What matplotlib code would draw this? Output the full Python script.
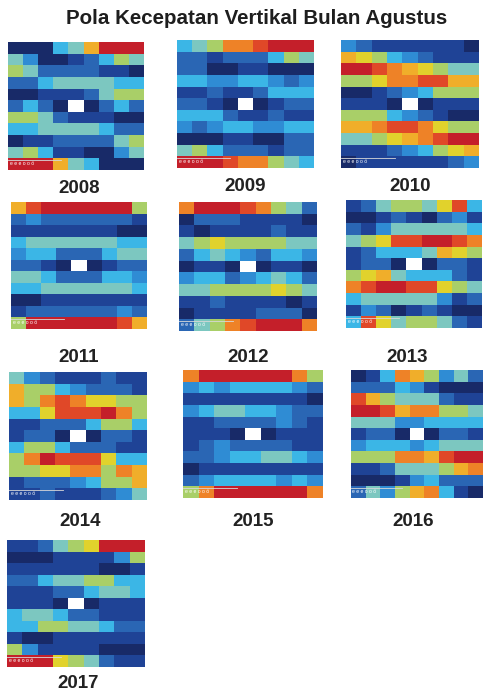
import numpy as np
import matplotlib.pyplot as plt
from matplotlib.colors import ListedColormap

# cell classes per row: 0 (weakest) .. b (strongest), W = centre point (no data)
g2008 = ["000458bbb", "530012465", "652222110", "224555544", "001112566",
         "2420W0242", "665211100", "445555422", "011222256", "564110035",
         "bbb854000"]
g2009 = ["45699abbb", "221222465", "220011000", "443344323", "112112444",
         "2210W0122", "444211211", "323443344", "000110022", "564222122",
         "bbba99654"]
g2010 = ["321111110", "876432111", "bba987655", "66799aa88", "001234666",
         "1110W0111", "666432100", "889aa9766", "556789abb", "111234678",
         "011111123"]
g2011 = ["8abbbbbb6", "232222221", "111111100", "455555544", "344222455",
         "2210W0122", "554222443", "445555554", "001111111", "122222232",
         "6bbbbbba8"]
g2012 = ["9bbba9652", "022211110", "101111211", "567666655", "245432443",
         "0110W0110", "344234542", "556666765", "112111101", "011112220",
         "2569abbb9"]
g2013 = ["1256657a4", "001210231", "213555554", "567aabba9", "124445876",
         "1220W0221", "678544421", "9abbaa765", "455555312", "132012100",
         "4a7566521"]
g2014 = ["532111211", "866432221", "869a97766", "447aaab96", "112224664",
         "1220W0221", "466422211", "69baaa744", "667799698", "122234668",
         "112111235"]
g2015 = ["9bbbbbb96", "343444432", "111111110", "345544322", "112222321",
         "1110W0111", "123222211", "223445543", "011111111", "234444343",
         "69bbbbbb9"]
g2016 = ["014986352", "222431000", "a86555211", "bba899665", "555334444",
         "1220W0221", "344434555", "666998abb", "112555689", "000134222",
         "253689410"]
g2017 = ["112567bbb", "000111136", "111111001", "224556644", "111224554",
         "1110W0111", "455422111", "446655422", "100111111", "631111000",
         "bbb765211"]

years = ["2008", "2009", "2010", "2011", "2012",
         "2013", "2014", "2015", "2016", "2017"]
grids = [g2008, g2009, g2010, g2011, g2012,
         g2013, g2014, g2015, g2016, g2017]

# jet-like palette, slightly washed out
palette = ["#182a68", "#1f4396", "#2a66b4", "#2f8cd4", "#3bb6e6", "#7cc7c0",
           "#a9cf68", "#e1d22c", "#f0ae2a", "#ee8227", "#e04828", "#c41f2a"]
cmap = ListedColormap(palette)
cmap.set_bad("white")

# panel boxes in pixels: left, right, top, bottom ; label centre x, y
W, H = 483, 693
boxes = [(8, 144, 42, 170), (177, 314, 40, 168), (341, 479, 40, 168),
         (11, 147, 202, 329), (179, 317, 202, 331), (346, 482, 200, 328),
         (9, 147, 372, 500), (183, 322, 370, 498), (351, 483, 370, 498),
         (7, 145, 540, 667)]
label_pos = [(79, 188), (245, 187), (410, 187),
             (79, 358), (248, 358), (407, 358),
             (80, 521), (253, 521), (413, 521),
             (78, 683)]


def to_array(rows):
    out = np.full((len(rows), 9), np.nan)
    for r, line in enumerate(rows):
        for c, ch in enumerate(line):
            if ch != "W":
                out[r, c] = int(ch, 16)
    return out


plt.rcParams["font.family"] = ["Liberation Sans", "DejaVu Sans"]
fig = plt.figure(figsize=(W / 100, H / 100), dpi=100)
fig.patch.set_facecolor("white")

fig.text(257 / W, 1 - 18 / H, "Pola Kecepatan Vertikal Bulan Agustus",
         ha="center", va="center", fontsize=14.8, fontweight="bold",
         color="#1e1e1e")

for year, rows, (x0, x1, y0, y1), (lx, ly) in zip(years, grids, boxes, label_pos):
    ax = fig.add_axes([x0 / W, 1 - y1 / H, (x1 - x0) / W, (y1 - y0) / H])
    data = to_array(rows)
    ax.imshow(data, cmap=cmap, vmin=-0.5, vmax=11.5, aspect="auto",
              interpolation="nearest")
    ax.set_xticks([])
    ax.set_yticks([])
    for s in ax.spines.values():
        s.set_visible(False)
    # squashed leftover tick labels in the lower-left corner
    ax.plot([-0.5, 3.0], [9.62, 9.62], color="#d8d8d8", lw=0.6)
    ax.text(-0.4, 9.95, "e e e o o ö", color="white", fontsize=3.6,
            va="center", ha="left")
    fig.text(lx / W, 1 - ly / H, year, ha="center", va="center",
             fontsize=13.5, fontweight="bold", color="#222222")

fig.savefig("out.png", dpi=100, facecolor="white")
